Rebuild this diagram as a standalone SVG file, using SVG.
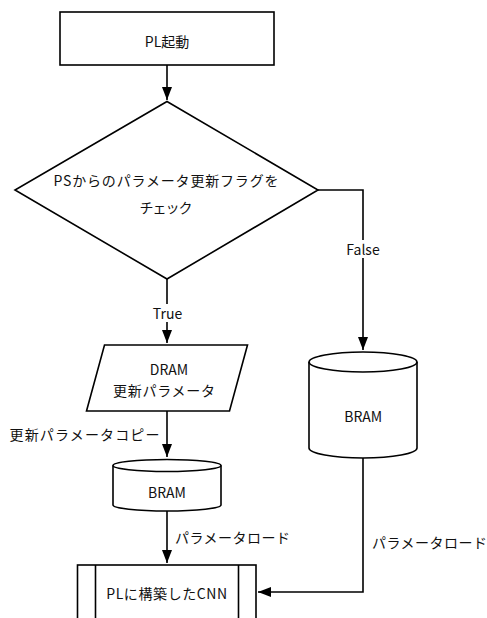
<svg xmlns="http://www.w3.org/2000/svg" width="487" height="618" viewBox="0 0 487 618">
<defs>
<style>
.s{fill:#fff;stroke:#000;stroke-width:1.6}
.c{fill:none;stroke:#000;stroke-width:1.6}
text{font-family:"Noto Sans CJK JP","Noto Sans",sans-serif;font-size:14px;fill:#111;dominant-baseline:central}
.m{text-anchor:middle}
</style>
<marker id="ah" markerWidth="13" markerHeight="10" refX="13" refY="5" orient="auto" markerUnits="userSpaceOnUse">
<path d="M0,0 L13,5 L0,10 Z" fill="#000"/>
</marker>
</defs>
<rect width="487" height="618" fill="#fff"/>
<g id="connectors">
<path class="c" d="M167,65 V100" marker-end="url(#ah)"/>
<path class="c" d="M167,279 V343" marker-end="url(#ah)"/>
<path class="c" d="M318,190 H363 V350" marker-end="url(#ah)"/>
<path class="c" d="M167,411 V457" marker-end="url(#ah)"/>
<path class="c" d="M167,511 V563" marker-end="url(#ah)"/>
<path class="c" d="M363,458 V592 H258" marker-end="url(#ah)"/>
<rect x="344" y="240" width="38" height="18" fill="#fff"/>
<text class="m" x="363" y="249">False</text>
<rect x="151" y="304" width="33" height="18" fill="#fff"/>
<text class="m" x="167.5" y="313">True</text>
<text x="9.5" y="434" textLength="150" lengthAdjust="spacing">更新パラメータコピー</text>
<text x="175" y="536.5" textLength="115" lengthAdjust="spacing">パラメータロード</text>
<text x="372" y="541.5" textLength="115" lengthAdjust="spacing">パラメータロード</text>
</g>
<g id="start">
<rect class="s" x="60" y="12" width="214" height="53"/>
<text class="m" x="167" y="41">PL起動</text>
</g>
<g id="decision">
<path class="s" d="M167,101.5 L318,190 L167,279 L15,190 Z"/>
<text class="m" x="166" y="180" textLength="225" lengthAdjust="spacing">PSからのパラメータ更新フラグを</text>
<text class="m" x="166" y="206.5" textLength="53" lengthAdjust="spacing">チェック</text>
</g>
<g id="dram">
<path class="s" d="M104.5,345 L247.5,345 L229.5,411 L86.5,411 Z"/>
<text class="m" x="169" y="369">DRAM</text>
<text class="m" x="164" y="389.5" textLength="102" lengthAdjust="spacing">更新パラメータ</text>
</g>
<g id="bram-left">
<path class="s" d="M113,465.5 A54,6 0 0,1 221,465.5 L221,505 A54,6 0 0,1 113,505 Z"/>
<path class="c" d="M113,465.5 A54,6 0 0,0 221,465.5"/>
<text class="m" x="167" y="491.5">BRAM</text>
</g>
<g id="bram-right">
<path class="s" d="M309,362 A54,10 0 0,1 417,362 L417,448 A54,10 0 0,1 309,448 Z"/>
<path class="c" d="M309,362 A54,10 0 0,0 417,362"/>
<text class="m" x="363.3" y="416">BRAM</text>
</g>
<g id="cnn">
<rect class="s" x="77.5" y="565" width="178.5" height="70"/>
<path class="c" d="M95.5,565 V635 M238.5,565 V635"/>
<text class="m" x="166.7" y="593" textLength="121" lengthAdjust="spacing">PLに構築したCNN</text>
</g>
</svg>
